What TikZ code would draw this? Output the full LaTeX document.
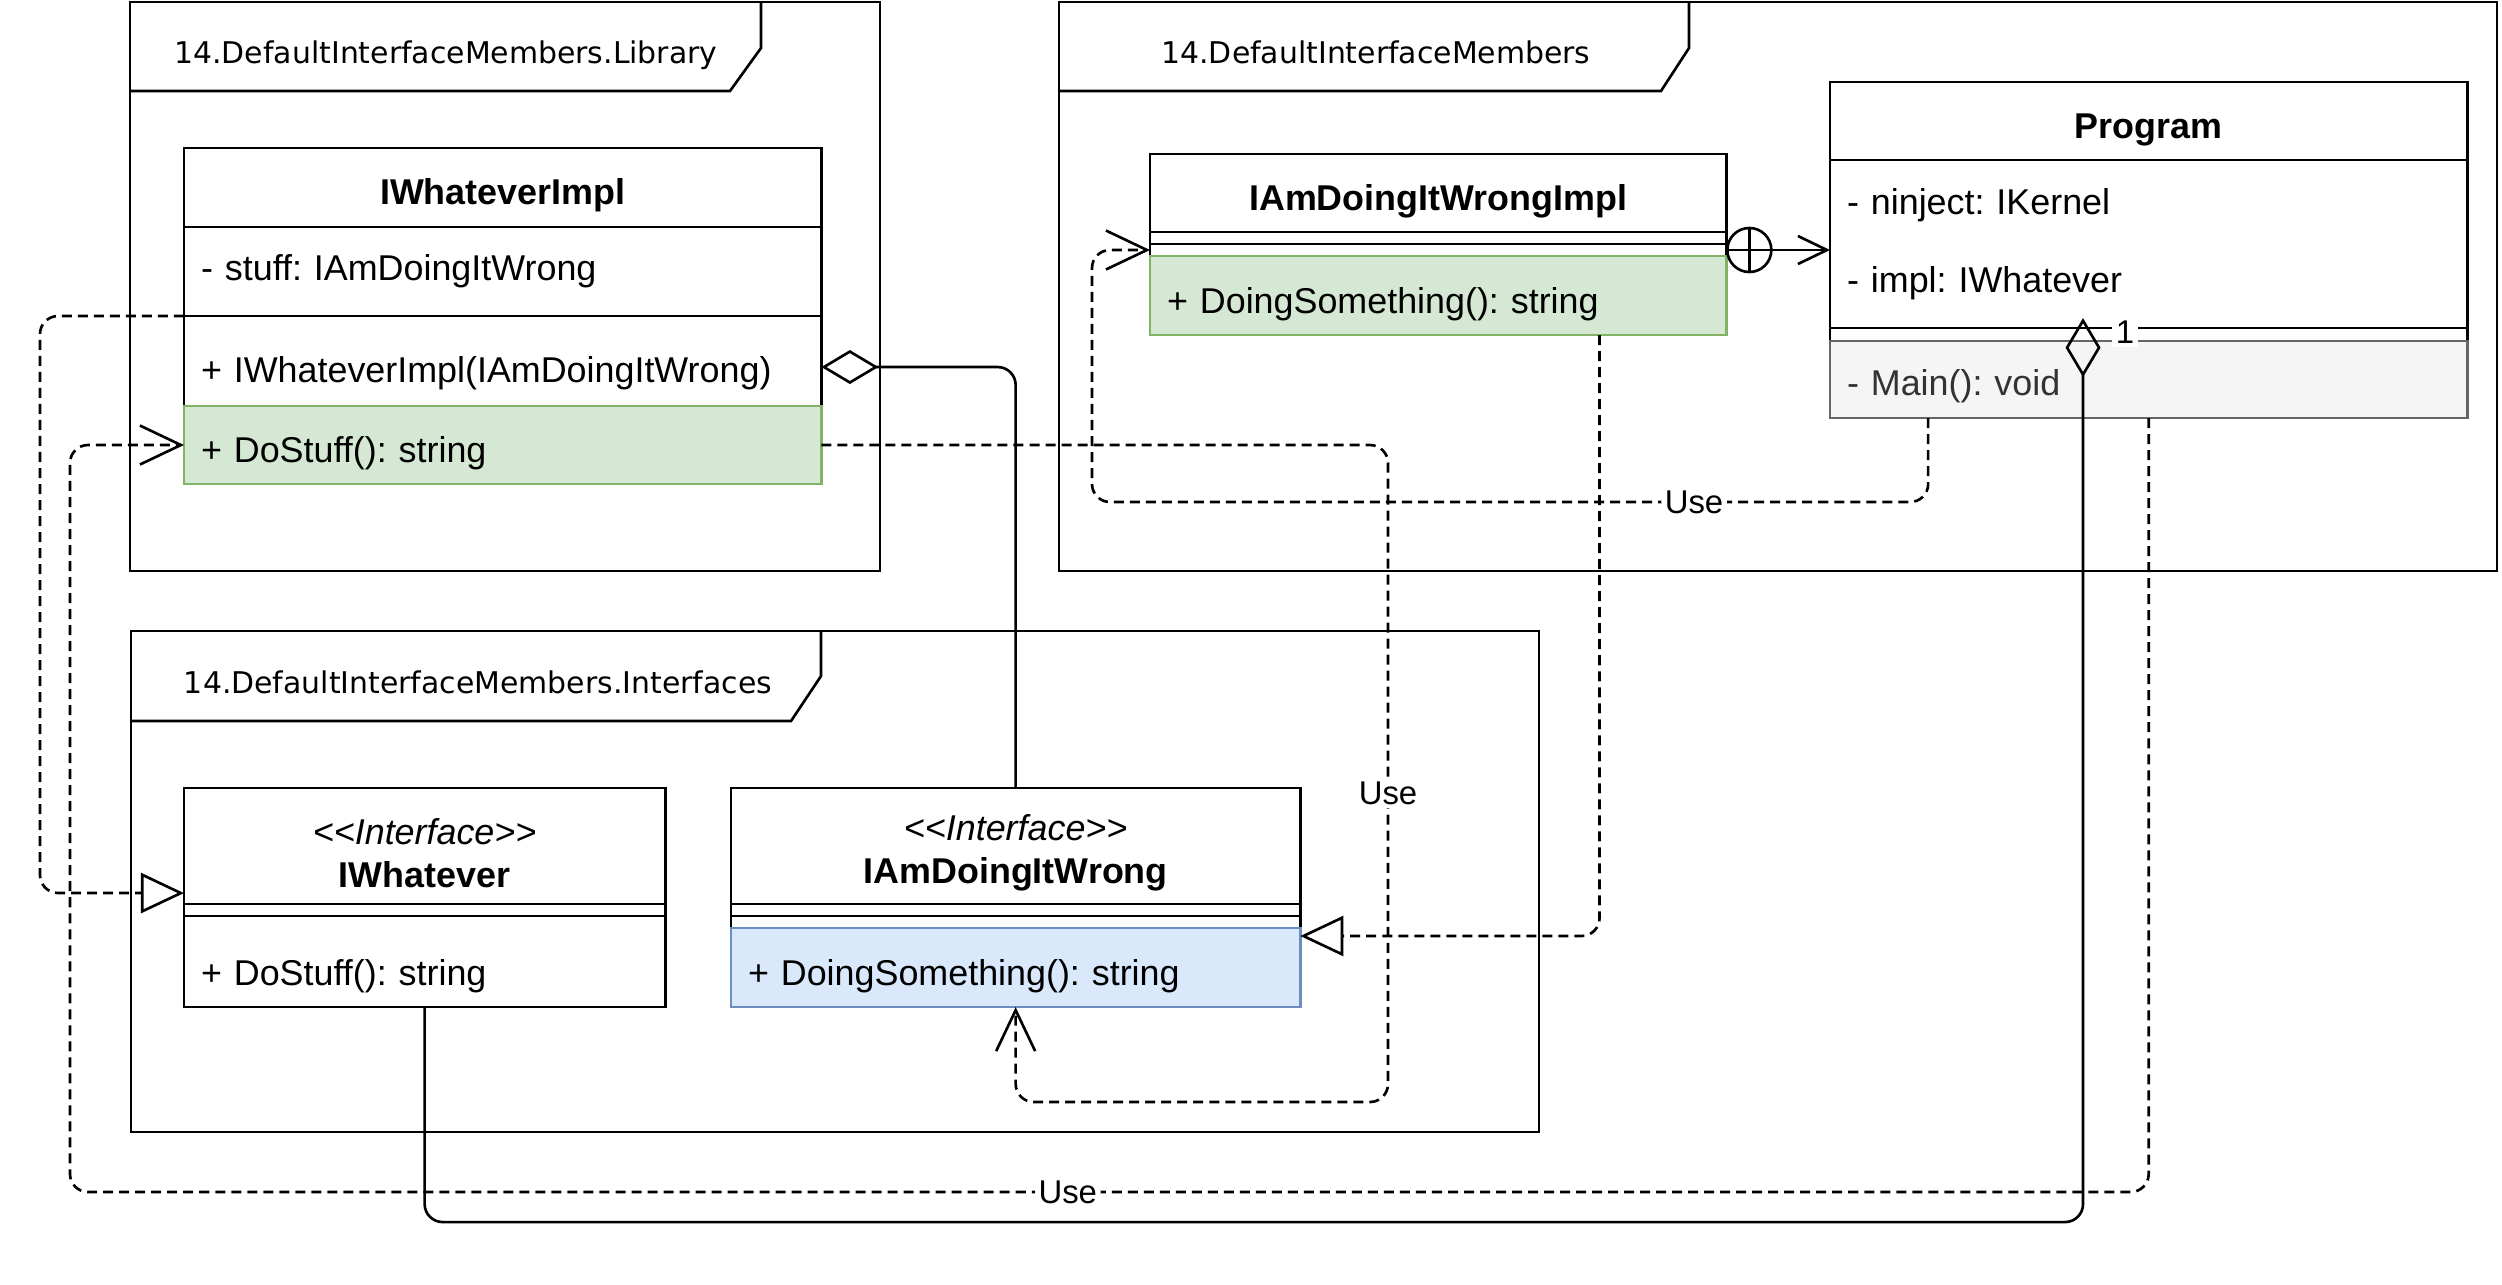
\documentclass[tikz,border=0pt]{standalone}
\usepackage{fontspec}
\setmainfont{Liberation Sans}
\newfontfamily\pkgfont{DejaVu Sans}
\usetikzlibrary{positioning,calc,arrows.meta}
\frenchspacing

\definecolor{implfill}{HTML}{D5E8D4}
\definecolor{impldraw}{HTML}{82B366}
\definecolor{ifacefill}{HTML}{DAE8FC}
\definecolor{ifacedraw}{HTML}{6C8EBF}
\definecolor{mainfill}{HTML}{F5F5F5}
\definecolor{maindraw}{HTML}{666666}
\definecolor{maintext}{HTML}{333333}

\newcommand{\umlfont}{\fontsize{10.2}{12.2}\selectfont}
\newcommand{\lblfont}{\fontsize{9.35}{11}\selectfont}

\tikzset{
	font=\umlfont,
	classhead/.style={draw, anchor=north west, outer sep=0pt, inner sep=0pt, align=center, font=\umlfont\bfseries, minimum width=#1},
	classname/.style={classhead=#1, text height=0.41cm, text depth=0.07cm},
	classtext/.style={anchor=north west, outer sep=0pt, inner xsep=0.17cm, inner ysep=0pt, align=left, text height=0.33cm, text depth=0.07cm, text width=#1},
	classrow/.style={classtext=#1, draw},
	classgap/.style={draw, anchor=north west, outer sep=0pt, inner sep=0pt, minimum height=0.12cm, minimum width=#1},
	implrow/.style={fill=implfill, draw=impldraw},
	ifacerow/.style={fill=ifacefill, draw=ifacedraw},
	mainrow/.style={fill=mainfill, draw=maindraw, text=maintext},
	pkglabel/.style={font=\pkgfont\fontsize{8.5}{10}\selectfont, inner sep=0pt, text height=0.22cm, text depth=0pt},
	depline/.style={dash pattern=on 0.1cm off 0.06cm, rounded corners=0.18cm},
	usedep/.style={depline, -{Straight Barb[length=0.41cm, width=0.39cm]}},
	realdep/.style={depline, -{Triangle[open, length=0.43cm, width=0.4cm]}},
	aggdep/.style={rounded corners=0.18cm},
	lbl/.style={fill=white, inner sep=1pt, font=\lblfont},
	nestmark/.style={circle, draw, inner sep=0pt, minimum size=0.44cm,
		path picture={\draw (path picture bounding box.north) -- (path picture bounding box.south);}},
}

\begin{document}
\begin{tikzpicture}[x=0.01cm, y=-0.01cm, line width=0.75pt]
	\useasboundingbox (0,0) rectangle (2502,1284);

	% packages
	\draw (130,2) rectangle (880,571);
	\draw (130,91) -- (730,91) -- (761,48) -- (761,2);
	\node[pkglabel] (libtab) at (446,52) {14.DefaultInterfaceMembers.Library};

	\draw (1059,2) rectangle (2497,571);
	\draw (1059,91) -- (1661,91) -- (1689,48) -- (1689,2);
	\node[pkglabel] (maintab) at (1376,52) {14.DefaultInterfaceMembers};

	\draw (131,631) rectangle (1539,1132);
	\draw (131,721) -- (791,721) -- (821,676) -- (821,631);
	\node[pkglabel] (iftab) at (478,682) {14.DefaultInterfaceMembers.Interfaces};

	% IWhateverImpl
	\node[classname=6.37cm, minimum height=0.79cm] (wimpl) at (184,148) {IWhateverImpl};
	\node[classrow=6.03cm, minimum height=0.89cm, text height=0.24cm] (wimpl-attr) at (184,227) {- stuff: IAmDoingItWrong};
	\node[classrow=6.03cm, minimum height=0.90cm, text height=0.49cm] (wimpl-ctor) at (184,316) {+ IWhateverImpl(IAmDoingItWrong)};
	\node[classrow=6.03cm, minimum height=0.78cm, text height=0.42cm, implrow] (wimpl-do) at (184,406) {+ DoStuff(): string};

	% IAmDoingItWrongImpl
	\node[classname=5.76cm, minimum height=0.78cm] (wrimpl) at (1150,154) {IAmDoingItWrongImpl};
	\node[classgap=5.76cm] (wrimpl-attr) at (1150,232) {};
	\node[classgap=5.76cm] (wrimpl-sep) at (1150,244) {};
	\node[classrow=5.42cm, minimum height=0.79cm, text height=0.42cm, implrow] (wrimpl-do) at (1150,256) {+ DoingSomething(): string};

	% Program
	\node[classname=6.37cm, minimum height=0.78cm] (prog) at (1830,82) {Program};
	\node[draw, anchor=north west, outer sep=0pt, inner sep=0pt, minimum width=6.37cm, minimum height=1.68cm] (prog-attr) at (1830,160) {};
	\node[classtext=6.03cm, minimum height=0.78cm] (prog-kernel) at (1830,162) {- ninject: IKernel};
	\node[classtext=6.03cm, minimum height=0.78cm] (prog-impl) at (1830,240) {- impl: IWhatever};
	\node[classgap=6.37cm, minimum height=0.13cm] (prog-sep) at (1830,328) {};
	\node[classrow=6.03cm, minimum height=0.77cm, text height=0.38cm, mainrow] (prog-main) at (1830,341) {- Main(): void};

	% IWhatever
	\node[classhead=4.81cm, minimum height=1.16cm] (wh) at (184,788) {\rule{0pt}{0.40cm}\textnormal{\itshape <{}<Interface>{}>}\\IWhatever};
	\node[classgap=4.81cm] (wh-attr) at (184,904) {};
	\node[classrow=4.47cm, minimum height=0.91cm, text height=0.54cm] (wh-do) at (184,916) {+ DoStuff(): string};

	% IAmDoingItWrong
	\node[classhead=5.69cm, minimum height=1.16cm] (wr) at (731,788) {\rule{0pt}{0.40cm}\textnormal{\itshape <{}<Interface>{}>}\\IAmDoingItWrong};
	\node[classgap=5.69cm] (wr-attr) at (731,904) {};
	\node[classgap=5.69cm] (wr-sep) at (731,916) {};
	\node[classrow=5.35cm, minimum height=0.79cm, text height=0.42cm, ifacerow] (wr-do) at (731,928) {+ DoingSomething(): string};

	% realizations
	\draw[realdep] (wimpl-attr.south west) -| (40,893) -- ($(wh.south west)+(0,-11)$);
	\draw[realdep] ($(wrimpl-do.south west)!0.78!(wrimpl-do.south east)$) |- ($(wr-do.north east)+(0,8)$);

	% uses
	\draw[usedep] (prog-main.south) |- node[lbl, pos=0.76] {Use} (70,1192) |- (wimpl-do.west);
	\draw[usedep] ($(prog-main.south west)!0.154!(prog-main.south east)$) |- node[lbl, pos=0.64] {Use} (1092,502) |- (wrimpl-sep.west);
	\draw[usedep] (wimpl-do.east) -| node[lbl, pos=0.765] {Use} (1388,1102) -| (wr-do.south);

	% aggregations
	\draw[aggdep, -{Diamond[open, length=0.57cm, width=0.34cm]}] (wr.north) |- ($(wimpl-ctor.east)+(0,6)$);
	\coordinate (progend) at ($(prog-attr.south west)!0.397!(prog-attr.south east)+(0,-10)$);
	\draw[aggdep, -{Diamond[open, length=0.59cm, width=0.35cm]}] (wh-do.south) -- ++(0,215) -| (progend);
	\node[lbl] (mult) at ($(progend)+(42,14)$) {1};

	% nesting
	\draw[-{Straight Barb[length=0.29cm, width=0.28cm]}] (wrimpl-sep.east) -- (wrimpl-sep.east -| prog-attr.west);
	\node[nestmark] (nest) at ($(wrimpl-sep.east)+(23,0)$) {};
\end{tikzpicture}
\end{document}
